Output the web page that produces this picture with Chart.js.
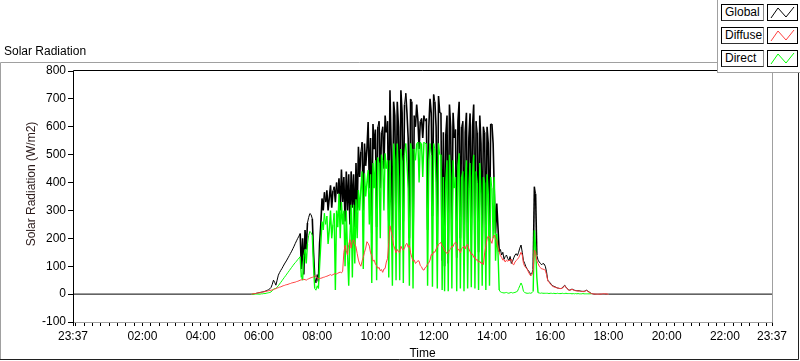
<!DOCTYPE html>
<html>
<head>
<meta charset="utf-8">
<script src="https://cdn.jsdelivr.net/npm/chart.js@4.4.0/dist/chart.umd.min.js"></script>
<style>
  html, body { margin: 0; padding: 0; background: #fff; }
  #wrap { position: relative; width: 800px; height: 361px; overflow: hidden; }
  #legend { position: absolute; left: 717px; top: 0; width: 83px; height: 73px; background: #fff;
            border-left: 1px solid #a0a0a0; border-bottom: 1px solid #a0a0a0; box-sizing: border-box; }
  .item { position: absolute; left: 3px; width: 78px; height: 17px; }
  .lbl { position: absolute; left: 0; top: 0; width: 43px; height: 17px; box-sizing: border-box;
         border: 1px solid #000; border-right-color: #8a8a8a; border-bottom-color: #303030;
         font: 12px "Liberation Sans", Arial, sans-serif; line-height: 15px; padding-left: 3px; color: #000; }
  .sym { position: absolute; left: 46px; top: 0; width: 31px; height: 17px; box-sizing: border-box;
         border: 1px solid #000; background: #fff; }
</style>
</head>
<body>
<div id="wrap">
  <canvas id="chart" width="800" height="361"></canvas>
  <div id="legend"></div>
</div>
<script>
// sampling of the logged data (2.5 min steps, 05:45 .. 18:00)
const START_TIME = '05:45'
const STEP_MIN = 2.5
// axis runs from 23:37 (day before) to 23:37
const AXIS_START = '23:37'
const AXIS_END = '23:37'
const xTickLabels = ['23:37', '02:00', '04:00', '06:00', '08:00', '10:00', '12:00',
                     '14:00', '16:00', '18:00', '20:00', '22:00', '23:37']
const yTicks = [-100, 0, 100, 200, 300, 400, 500, 600, 700, 800]

const seriesNames = ['Global', 'Diffuse', 'Direct']
const seriesColors = ['#000000', '#ff4040', '#00ff00']

// one row = 30 minutes
const globalValues = [
  0, 0, 1, 2, 3, 4, 5, 6, 7, 8, 9, 10,
  12, 14, 16, 19, 24, 35, 50, 42, 32, 50, 68, 77,
  85, 92, 100, 108, 115, 122, 130, 138, 146, 154, 163, 172,
  182, 191, 200, 208, 217, 90, 200, 70, 230, 160, 255, 275,
  289, 285, 270, 150, 60, 40, 70, 45, 181, 250, 343, 300,
  365, 330, 372, 300, 345, 390, 310, 370, 385, 330, 400, 360,
  415, 300, 447, 330, 420, 260, 440, 300, 430, 250, 440, 310,
  430, 240, 470, 300, 528, 420, 510, 545, 300, 540, 460, 520,
  617, 380, 560, 217, 610, 520, 590, 241, 600, 620, 380, 580,
  600, 450, 640, 580, 620, 260, 731, 520, 200, 690, 640, 230,
  690, 600, 230, 731, 650, 260, 680, 720, 650, 560, 200, 700,
  690, 170, 640, 600, 680, 625, 520, 620, 630, 560, 640, 620,
  630, 230, 600, 700, 650, 280, 716, 690, 600, 180, 710, 650,
  650, 120, 580, 100, 570, 640, 110, 680, 600, 180, 650, 560,
  590, 130, 620, 690, 200, 600, 620, 104, 580, 650, 160, 560,
  648, 230, 600, 680, 160, 620, 580, 150, 640, 540, 190, 600,
  580, 150, 600, 540, 190, 610, 610, 540, 361, 217, 325, 240,
  152, 160, 140, 150, 125, 135, 140, 128, 120, 135, 110, 118,
  130, 140, 145, 138, 150, 165, 176, 150, 120, 110, 98, 90,
  85, 78, 70, 75, 90, 385, 360, 140, 122, 115, 110, 105,
  110, 108, 100, 80, 50, 45, 40, 35, 30, 28, 26, 24,
  22, 21, 20, 20, 22, 28, 32, 25, 20, 16, 14, 16,
  18, 16, 14, 13, 12, 12, 12, 11, 10, 10, 10, 12,
  14, 11, 8, 5, 2, 1, 0, 0, 0, 0, 0, 0,
  0, 0, 0, 0, 0, 0, 0
]
const diffuseValues = [
  0, 1, 2, 2, 3, 4, 5, 5, 6, 7, 8, 9,
  10, 11, 12, 13, 14, 15, 16, 18, 20, 22, 23, 25,
  26, 28, 30, 31, 33, 34, 35, 37, 38, 40, 41, 42,
  43, 45, 46, 48, 50, 51, 52, 53, 52, 50, 53, 55,
  57, 59, 60, 62, 66, 63, 58, 56, 55, 57, 58, 60,
  61, 63, 64, 66, 68, 70, 67, 70, 72, 74, 72, 75,
  77, 79, 76, 82, 150, 175, 155, 140, 178, 195, 165, 188,
  195, 180, 170, 145, 122, 108, 100, 118, 132, 150, 165, 188,
  182, 172, 148, 138, 118, 122, 108, 102, 92, 96, 84, 88,
  78, 90, 92, 115, 128, 185, 245, 225, 205, 175, 162, 148,
  160, 152, 148, 172, 162, 158, 165, 178, 182, 168, 175, 148,
  132, 118, 122, 110, 114, 120, 118, 102, 98, 88, 86, 95,
  98, 108, 112, 122, 142, 140, 152, 150, 162, 168, 178, 182,
  185, 172, 168, 155, 152, 145, 148, 158, 162, 172, 170, 182,
  186, 178, 158, 160, 148, 162, 168, 172, 162, 175, 178, 162,
  152, 142, 144, 132, 134, 122, 124, 114, 118, 110, 112, 106,
  148, 172, 198, 208, 204, 192, 182, 205, 212, 198, 192, 168,
  152, 138, 132, 122, 124, 115, 122, 118, 121, 120, 126, 108,
  105, 115, 120, 125, 130, 140, 150, 140, 110, 100, 95, 90,
  80, 72, 65, 70, 85, 158, 150, 120, 110, 100, 95, 90,
  90, 88, 86, 70, 48, 42, 38, 32, 28, 26, 25, 23,
  22, 21, 20, 20, 21, 26, 30, 24, 19, 15, 14, 15,
  17, 15, 13, 12, 12, 11, 11, 10, 10, 9, 9, 11,
  13, 10, 7, 4, 2, 1, 1, 0, 0, 0, 0, 0,
  0, 1, 2, 1, 1, 0, 0
]
const directValues = [
  0, 0, 0, 0, 0, 0, 0, 0, 1, 1, 2, 2,
  3, 4, 5, 6, 8, 12, 18, 20, 20, 25, 30, 36,
  42, 48, 54, 60, 66, 72, 78, 84, 90, 96, 102, 108,
  113, 118, 124, 129, 134, 60, 50, 140, 160, 110, 180, 210,
  225, 220, 210, 100, 20, 14, 30, 20, 100, 180, 260, 230,
  290, 250, 280, 180, 230, 300, 200, 250, 290, 15, 300, 240,
  360, 200, 330, 250, 300, 100, 300, 150, 30, 200, 320, 60,
  320, 110, 340, 200, 373, 300, 380, 440, 90, 433, 350, 400,
  445, 250, 430, 40, 470, 380, 480, 50, 490, 470, 200, 500,
  480, 300, 505, 450, 480, 60, 480, 300, 30, 540, 480, 50,
  540, 420, 50, 520, 480, 40, 500, 540, 470, 380, 30, 540,
  520, 20, 520, 480, 540, 545, 400, 545, 540, 420, 545, 540,
  540, 30, 480, 540, 500, 26, 540, 520, 400, 20, 540, 500,
  500, 15, 420, 10, 400, 480, 10, 500, 420, 20, 480, 380,
  420, 10, 460, 505, 20, 420, 440, 10, 400, 480, 20, 380,
  470, 25, 420, 500, 20, 440, 400, 15, 470, 360, 30, 420,
  400, 15, 430, 360, 30, 420, 380, 200, 420, 120, 217, 150,
  15, 8, 6, 5, 4, 5, 6, 4, 3, 5, 6, 4,
  5, 6, 8, 10, 20, 30, 40, 30, 10, 6, 4, 3,
  3, 4, 3, 5, 10, 229, 170, 60, 5, 4, 3, 4,
  3, 3, 3, 3, 3, 2, 3, 3, 2, 3, 2, 2,
  3, 2, 2, 2, 3, 2, 2, 3, 2, 2, 2, 2,
  1, 2, 1, 2, 1, 2, 1, 1, 1, 2, 1, 1,
  1, 1, 1, 1, 1, null, null, null, null, null, null, null,
  null, null, null, null, null, null, null
]

// helpers
const toHours = (s) => { const [h, m] = s.split(':').map(Number); return h + m / 60 }
const xMin = toHours(AXIS_START) - 24
const xMax = toHours(AXIS_END)
const t0 = toHours(START_TIME)
const times = globalValues.map((v, i) => t0 + i * STEP_MIN / 60)
const toPoints = (vals) => vals.map((v, i) => ({x: times[i], y: v}))

// major tick positions, first/last label are the axis ends
const majorTicks = xTickLabels.map((l, i) =>
  i === 0 ? xMin : (i === xTickLabels.length - 1 ? xMax : toHours(l)))
// LabVIEW puts 6 minor ticks between the 2 h majors
const minorStep = 2 / 7
const xTickValues = []
for (let v = toHours('02:00'); v > xMin + 0.01; v -= minorStep) xTickValues.push(v)
for (let v = toHours('02:00') + minorStep; v < xMax - 0.01; v += minorStep) xTickValues.push(v)
xTickValues.push(xMin, xMax)
xTickValues.sort((a, b) => a - b)

const FONT = '"Liberation Sans", Arial, sans-serif'
Chart.defaults.font.family = FONT
Chart.defaults.font.size = 12
Chart.defaults.color = '#000'

// frame + titles, LabVIEW style
const framePlugin = {
  id: 'frame',
  afterDraw(chart) {
    const {ctx, chartArea: {left, right, top, bottom}} = chart
    ctx.save()
    ctx.lineWidth = 1
    // outer panel
    ctx.strokeStyle = '#a0a0a0'
    ctx.beginPath()
    ctx.moveTo(0.5, 360); ctx.lineTo(0.5, 62.5); ctx.lineTo(718, 62.5)
    ctx.stroke()
    ctx.strokeStyle = '#202020'
    ctx.beginPath()
    ctx.moveTo(0, 359.5); ctx.lineTo(798.5, 359.5); ctx.lineTo(798.5, 72)
    ctx.stroke()
    // plot frame
    ctx.strokeStyle = '#000'
    ctx.beginPath()
    ctx.moveTo(left + 0.5, bottom); ctx.lineTo(left + 0.5, top - 0.5); ctx.lineTo(right, top - 0.5)
    ctx.stroke()
    ctx.strokeStyle = '#a0a0a0'
    ctx.beginPath()
    ctx.moveTo(right + 0.5, top - 1); ctx.lineTo(right + 0.5, bottom + 0.5); ctx.lineTo(left + 1, bottom + 0.5)
    ctx.stroke()
    // texts
    ctx.fillStyle = '#000'
    ctx.font = '12px ' + FONT
    ctx.textBaseline = 'alphabetic'
    ctx.textAlign = 'left'
    ctx.fillText('Solar Radiation', 4, 55)
    ctx.textAlign = 'center'
    ctx.fillText('Time', (left + right) / 2, 357)
    ctx.translate(35, 184)
    ctx.rotate(-Math.PI / 2)
    ctx.fillStyle = '#2a1a1a'
    ctx.fillText('Solar Radiation (W/m2)', 0, 0)
    ctx.restore()
  }
}

// the reference is drawn without antialiasing, so the steep spikes are
// thickened a bit to get the same density; flat parts stay 1px
const spikeWidth = (w) => (ctx) =>
  Math.abs(ctx.p0.parsed.y - ctx.p1.parsed.y) > 40 ? w : 1

const datasets = [globalValues, diffuseValues, directValues].map((vals, i) => {
  let pts = toPoints(vals)
  // global is logged as 0 through the night over the whole axis
  if (i === 0) pts = [{x: xMin, y: 0}, ...pts, {x: xMax, y: 0}]
  return {
    label: seriesNames[i],
    data: pts,
    borderColor: seriesColors[i],
    borderWidth: 1,
    segment: {borderWidth: spikeWidth([1.6, 1, 1.4][i])},
    pointRadius: 0,
    tension: 0,
    order: [3, 1, 2][i]
  }
})

new Chart(document.getElementById('chart'), {
  type: 'line',
  data: {datasets},
  options: {
    responsive: false,
    animation: false,
    devicePixelRatio: 1,
    layout: {padding: {top: 71, right: 28, left: 0, bottom: 0}},
    plugins: {legend: {display: false}, tooltip: {enabled: false}},
    scales: {
      x: {
        type: 'linear', min: xMin, max: xMax,
        afterFit(s) { s.height = 39 },
        afterBuildTicks(s) { s.ticks = xTickValues.map(v => ({value: v})) },
        ticks: {
          autoSkip: false, maxRotation: 0, padding: 3,
          callback(v) {
            const k = majorTicks.findIndex(m => Math.abs(m - v) < 1e-6)
            return k >= 0 ? xTickLabels[k] : ''
          }
        },
        grid: {drawOnChartArea: false, tickLength: 4, color: '#000'},
        border: {display: false}
      },
      y: {
        min: -100, max: 800,
        afterFit(s) { s.width = 73 },
        afterBuildTicks(s) { s.ticks = yTicks.map(v => ({value: v})) },
        ticks: {padding: 2},
        grid: {drawOnChartArea: false, tickLength: 5, color: '#000'},
        border: {display: false}
      }
    }
  },
  plugins: [framePlugin]
})

// legend boxes like the LabVIEW plot legend
const legend = document.getElementById('legend')
seriesNames.forEach((name, i) => {
  const item = document.createElement('div')
  item.className = 'item'
  item.style.top = (4 + i * 23) + 'px'
  item.innerHTML = '<div class="lbl">' + name + '</div>' +
    '<div class="sym"><svg width="29" height="15"><polyline points="3,13 10,3 18,12 26,2" fill="none" stroke="' +
    seriesColors[i] + '" stroke-width="1"/></svg></div>'
  legend.appendChild(item)
})
</script>
</body>
</html>
